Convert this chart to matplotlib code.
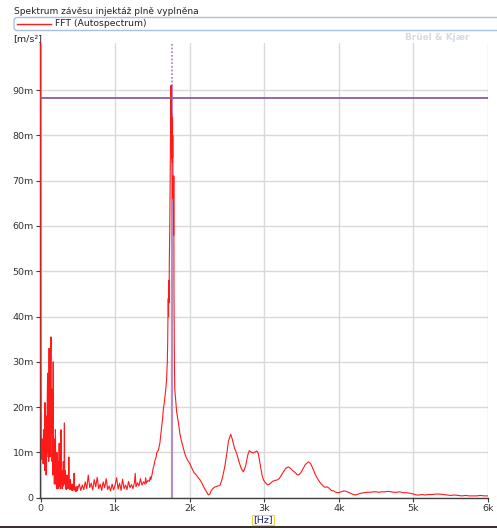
import matplotlib
matplotlib.use("Agg")
import matplotlib.pyplot as plt
from matplotlib.patches import FancyBboxPatch, Rectangle
from matplotlib.lines import Line2D

# ---- data (frequency in Hz, amplitude in m/s^2 x 1e-3) ----
freq_low = [0, 5, 10, 15, 20, 25, 30, 35, 40, 45, 50, 55, 60, 65, 70, 75, 80, 85, 90, 95,
            100, 105, 110, 115, 120, 125, 130, 135, 140, 145, 150, 155, 160, 165, 170, 175,
            180, 185, 190, 195, 200, 205, 210, 215, 220, 225, 230, 235, 240, 245, 250, 255,
            260, 265, 270, 275, 280, 285, 290, 295, 300, 305, 310, 315, 320, 325, 330, 335,
            340, 345, 350, 355, 360, 365, 370, 375, 380, 385, 390, 395, 400, 405, 410, 415,
            420, 425, 430, 435, 440, 445, 450, 455, 460, 465, 470, 475, 480, 485, 490, 495]
amp_low = [160, 32, 11, 8.5, 13, 9, 12, 7.5, 15, 8, 12, 6, 21, 9, 13, 5, 18, 9, 22, 27.5,
           10, 20, 8, 33, 12, 22, 9, 28, 35.5, 14, 24, 8, 19, 5, 30, 6,
           13, 3, 9, 4, 15, 3, 6, 2, 10, 2.5, 5, 2, 8, 3, 12, 2.5,
           6, 2, 9, 15, 3, 6, 2, 5, 2.5, 8, 3, 5, 16.5, 3, 6, 2,
           4, 1.8, 5, 2, 3, 2, 5, 2.5, 9, 2, 3, 1.8, 4, 2, 3, 1.7,
           2.5, 1.6, 3, 2, 2.5, 1.7, 5.4, 2, 2.5, 1.5, 2, 1.4, 2.2, 1.5, 2.5, 1.6]

freq_mid = [500, 520, 540, 560, 580, 600, 620, 640, 660, 680, 700, 720, 740, 760, 780, 800,
            820, 840, 860, 880, 900, 920, 940, 960, 980, 1000, 1020, 1040, 1060, 1080, 1100,
            1120, 1140, 1160, 1180, 1200, 1220, 1240, 1260, 1270, 1280, 1300, 1320, 1340,
            1360, 1380, 1400, 1410, 1420, 1440, 1460, 1470, 1480]
amp_mid = [2, 3, 1.6, 2.8, 1.8, 3.5, 2, 5, 2.2, 3.2, 1.7, 4, 2.4, 4.5, 2, 3,
           1.6, 3.5, 2.2, 4.2, 1.8, 2.6, 1.5, 3, 1.7, 2.8, 4.4, 1.9, 3.2, 1.6, 4.1,
           2, 2.8, 1.8, 3.6, 2.2, 2.9, 2, 3.4, 5.4, 2.4, 3.3, 2.6, 4.2,
           2.8, 3.5, 3, 4.4, 3.2, 3.8, 3.6, 4.6, 4]

freq_peak = [1500, 1510, 1520, 1535, 1550, 1560, 1580, 1600, 1620, 1640, 1646, 1660, 1680,
             1690, 1700, 1705, 1710, 1713, 1717, 1720, 1724, 1727, 1732, 1736, 1740, 1744,
             1747, 1749, 1751, 1753, 1755, 1757, 1759, 1761, 1763, 1765, 1767, 1769, 1771,
             1773, 1775, 1778, 1781, 1784, 1787, 1790, 1795, 1800, 1810, 1825, 1850, 1870,
             1890, 1910, 1930, 1950, 1975, 2000, 2030, 2060, 2090, 2120, 2140, 2170, 2200,
             2230, 2250, 2270, 2290, 2310, 2330, 2360, 2380, 2410]
amp_peak = [5.5, 6.5, 7, 8.3, 9, 10, 10.5, 12, 15, 18, 19.4, 21, 24,
            26, 30, 34, 42, 44, 40, 48, 43, 52, 58, 66, 74, 82,
            86, 91, 80, 88, 77, 85, 75, 84, 76, 83, 74, 82, 75,
            80, 72, 66, 71, 58, 71, 45, 30, 24, 22, 19, 16.4, 14,
            12.5, 11.3, 10, 9, 8.2, 7.6, 6.5, 5.5, 5, 4.3, 3.9, 3, 2,
            1.2, 0.6, 0.8, 1.6, 2, 2.3, 2.5, 2.6, 2.8]

freq_high = [2440, 2470, 2500, 2520, 2550, 2570, 2600, 2630, 2660, 2690, 2720, 2750, 2780,
             2800, 2830, 2850, 2880, 2900, 2920, 2950, 2970, 2990, 3020, 3050, 3080, 3110,
             3140, 3170, 3200, 3230, 3260, 3290, 3320, 3350, 3380, 3410, 3440, 3460, 3490,
             3520, 3550, 3590, 3620, 3650, 3680, 3700, 3730, 3760, 3790, 3810, 3840, 3870,
             3900, 3930, 3960, 3990, 4030, 4070, 4100, 4140, 4180, 4220, 4260, 4300, 4340,
             4380, 4420, 4460, 4500, 4540, 4580, 4620, 4660, 4700, 4740, 4780, 4820, 4860,
             4900, 4950, 5000, 5040, 5080, 5120, 5160, 5200, 5250, 5300, 5350, 5400, 5450,
             5500, 5550, 5600, 5650, 5700, 5750, 5800, 5850, 5900, 5950, 6000]
amp_high = [4.5, 6.8, 10, 12.5, 14, 13, 11, 9.8, 8, 6.5, 5.7, 7, 9.5,
            10.4, 10, 9.9, 10.1, 10.3, 9.8, 7, 5, 3.9, 3.2, 2.8, 3.1, 3.6,
            3.8, 3.9, 4.2, 5, 5.8, 6.5, 6.8, 6.5, 6, 5.6, 5.1, 5.0, 5.5,
            6.4, 7.3, 7.9, 7.6, 6.5, 5.3, 4.6, 3.8, 3.1, 2.6, 2.3, 2.4, 2.1,
            1.6, 1.5, 1.2, 1.1, 1.3, 1.5, 1.4, 1.1, 0.8, 0.6, 0.8, 1.0, 1.1,
            1.2, 1.2, 1.3, 1.3, 1.2, 1.3, 1.3, 1.4, 1.3, 1.2, 1.2, 1.3, 1.1,
            1.1, 1.0, 0.8, 0.6, 0.6, 0.7, 0.6, 0.7, 0.7, 0.8, 0.8, 0.7, 0.6,
            0.5, 0.6, 0.5, 0.4, 0.5, 0.4, 0.4, 0.4, 0.5, 0.4, 0.4]

freq = freq_low + freq_mid + freq_peak + freq_high
amp = amp_low + amp_mid + amp_peak + amp_high

cursor_x = 1759
cursor_y = 88.2
peak_y = 91

y_ticks = [0, 10, 20, 30, 40, 50, 60, 70, 80, 90]
y_labels = ["0", "10m", "20m", "30m", "40m", "50m", "60m", "70m", "80m", "90m"]
x_ticks = [0, 1000, 2000, 3000, 4000, 5000, 6000]
x_labels = ["0", "1k", "2k", "3k", "4k", "5k", "6k"]

title = "Spektrum závěsu injektáž plně vyplněna"
legend_label = "FFT (Autospectrum)"

# ---- figure ----
W, H = 497, 528
fig = plt.figure(figsize=(W / 100, H / 100), dpi=100)
fig.patch.set_facecolor("white")
plt.rcParams["font.family"] = ["DejaVu Sans"]

def fx(px):
    return px / W

def fy(py):
    return 1 - py / H

ax = fig.add_axes([fx(40.0), fy(497.7), (488 - 40.0) / W, (497.7 - 43) / H])
ax.set_xlim(-7, 6000)
ax.set_ylim(0, 100.4)

ax.grid(True, color="#d9d9d9", lw=1.0)
ax.set_axisbelow(True)

# cursor lines
ax.plot([cursor_x, cursor_x], [0, peak_y], color="#b48fc4", lw=1.6, zorder=1)
ax.plot([cursor_x, cursor_x], [peak_y, 100.4], color="#a679b6", lw=1.2,
        linestyle=(0, (1, 1.2)), zorder=1, clip_on=False)

ax.plot(freq, amp, color="#ff1a1a", lw=0.8, zorder=3)
ax.axhline(cursor_y, color="#8e5a9e", lw=1.3, zorder=4)

ax.set_xticks(x_ticks)
ax.set_xticklabels(x_labels)
ax.set_yticks(y_ticks)
ax.set_yticklabels(y_labels)
ax.tick_params(direction="out", length=3, width=0.8, colors="#404040",
               labelsize=6.8, pad=1.5, labelcolor="#333333")
for s in ["top", "right"]:
    ax.spines[s].set_visible(False)
for s in ["left", "bottom"]:
    ax.spines[s].set_color("#404040")
    ax.spines[s].set_linewidth(1.0)

# title and legend
fig.text(fx(14), fy(11), title, fontsize=6.5, color="#222222", va="center", ha="left")
box = FancyBboxPatch((fx(14), fy(30.5)), fx(500) - fx(14), fy(17.5) - fy(30.5),
                     boxstyle="round,pad=0,rounding_size=0.006",
                     transform=fig.transFigure, facecolor="white",
                     edgecolor="#a9c1df", lw=1.0)
fig.add_artist(box)
fig.add_artist(Line2D([fx(17), fx(51)], [fy(24), fy(24)], color="#ff1a1a", lw=1.0,
                      transform=fig.transFigure))
fig.text(fx(55), fy(24), legend_label, fontsize=6.7, color="#222222", va="center", ha="left")

fig.text(fx(13), fy(38.5), "[m/s²]", fontsize=6.8, color="#222222", va="center", ha="left")
fig.text(fx(405), fy(37.5), "Brüel & Kjær", fontsize=6.4, fontweight="bold",
         color="#d5dbe4", va="center", ha="left")
fig.text(fx(263), fy(520), "[Hz]", fontsize=6.8, color="#1a237e", va="center", ha="center",
         bbox=dict(boxstyle="square,pad=0.1", facecolor="none", edgecolor="#e8d64a", lw=0.8))

fig.add_artist(Rectangle((0, 0), 1, 2.5 / H, transform=fig.transFigure,
                         facecolor="#3a3030", edgecolor="none"))

fig.savefig("out.png", dpi=100)
